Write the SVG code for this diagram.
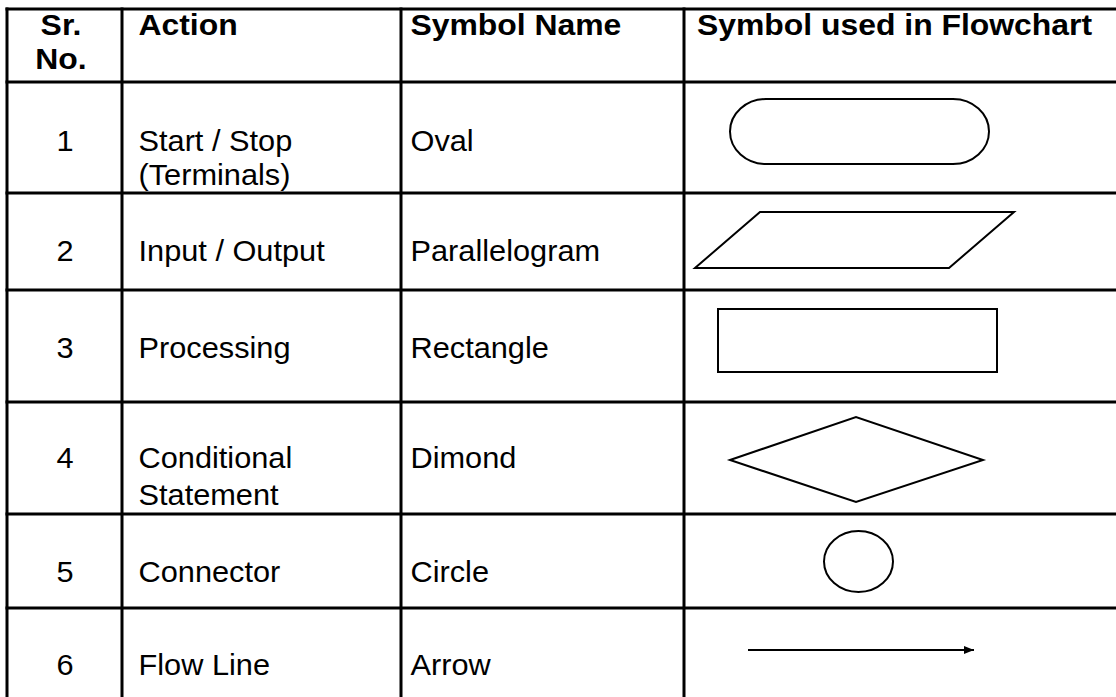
<svg xmlns="http://www.w3.org/2000/svg" width="1116" height="697" viewBox="0 0 1116 697">
<style>
  .grid line { stroke:#000; stroke-width:3; }
  .t { font-family:"Liberation Sans", Arial, sans-serif; font-size:29px; fill:#000; }
  .h { font-weight:bold; }
  .c { text-anchor:middle; }
  .sym { fill:#fff; stroke:#000; stroke-width:2; }
</style>
<defs>
  <marker id="ah" viewBox="0 0 10 8" refX="10" refY="4" markerWidth="10" markerHeight="8" markerUnits="userSpaceOnUse" orient="auto">
    <path d="M0,0 L10,4 L0,8 Z" fill="#000"/>
  </marker>
</defs>
<rect width="1116" height="697" fill="#fff"/>
<g id="grid" class="grid">
  <line x1="5.5" y1="9" x2="1116" y2="9"/>
  <line x1="5.5" y1="82" x2="1116" y2="82"/>
  <line x1="5.5" y1="193" x2="1116" y2="193"/>
  <line x1="5.5" y1="290" x2="1116" y2="290"/>
  <line x1="5.5" y1="402" x2="1116" y2="402"/>
  <line x1="5.5" y1="514" x2="1116" y2="514"/>
  <line x1="5.5" y1="608" x2="1116" y2="608"/>
  <line x1="7" y1="7.5" x2="7" y2="697"/>
  <line x1="122" y1="7.5" x2="122" y2="697"/>
  <line x1="401" y1="7.5" x2="401" y2="697"/>
  <line x1="684" y1="7.5" x2="684" y2="697"/>
</g>
<g id="header">
  <text class="t h c" transform="translate(61 35) scale(1.1 1)">Sr.</text>
  <text class="t h c" transform="translate(61 69) scale(1.1 1)">No.</text>
  <text class="t h" transform="translate(138.5 35) scale(1.1 1)">Action</text>
  <text class="t h" transform="translate(410.5 35) scale(1.1 1)">Symbol Name</text>
  <text class="t h" transform="translate(697 35) scale(1.1 1)">Symbol used in Flowchart</text>
</g>
<g id="row1">
  <text class="t c" transform="translate(65 151) scale(1.06 1)">1</text>
  <text class="t" transform="translate(138.5 151) scale(1.06 1)">Start / Stop</text>
  <text class="t" transform="translate(138.5 185) scale(1.06 1)">(Terminals)</text>
  <text class="t" transform="translate(410.5 151) scale(1.06 1)">Oval</text>
  <rect id="oval" class="sym" x="730" y="99" width="259" height="65" rx="36" ry="32.5"/>
</g>
<g id="row2">
  <text class="t c" transform="translate(65 261) scale(1.06 1)">2</text>
  <text class="t" transform="translate(138.5 261) scale(1.06 1)">Input / Output</text>
  <text class="t" transform="translate(410.5 261) scale(1.06 1)">Parallelogram</text>
  <polygon id="parallelogram" class="sym" points="760,212 1014,212 949,268 695,268"/>
</g>
<g id="row3">
  <text class="t c" transform="translate(65 358) scale(1.06 1)">3</text>
  <text class="t" transform="translate(138.5 358) scale(1.06 1)">Processing</text>
  <text class="t" transform="translate(410.5 358) scale(1.06 1)">Rectangle</text>
  <rect id="rectangle" class="sym" x="718" y="309" width="279" height="63"/>
</g>
<g id="row4">
  <text class="t c" transform="translate(65 468) scale(1.06 1)">4</text>
  <text class="t" transform="translate(138.5 468) scale(1.06 1)">Conditional</text>
  <text class="t" transform="translate(138.5 505) scale(1.06 1)">Statement</text>
  <text class="t" transform="translate(410.5 468) scale(1.06 1)">Dimond</text>
  <polygon id="diamond" class="sym" points="730,460 856,417 983,460 856,502"/>
</g>
<g id="row5">
  <text class="t c" transform="translate(65 582) scale(1.06 1)">5</text>
  <text class="t" transform="translate(138.5 582) scale(1.06 1)">Connector</text>
  <text class="t" transform="translate(410.5 582) scale(1.06 1)">Circle</text>
  <ellipse id="circle" class="sym" cx="858.5" cy="561.5" rx="34.5" ry="30.5"/>
</g>
<g id="row6">
  <text class="t c" transform="translate(65 675) scale(1.06 1)">6</text>
  <text class="t" transform="translate(138.5 675) scale(1.06 1)">Flow Line</text>
  <text class="t" transform="translate(410.5 675) scale(1.06 1)">Arrow</text>
</g>
<g id="connectors">
  <line id="flowline" x1="748" y1="650" x2="974" y2="650" stroke="#000" stroke-width="2" marker-end="url(#ah)"/>
</g>
</svg>
